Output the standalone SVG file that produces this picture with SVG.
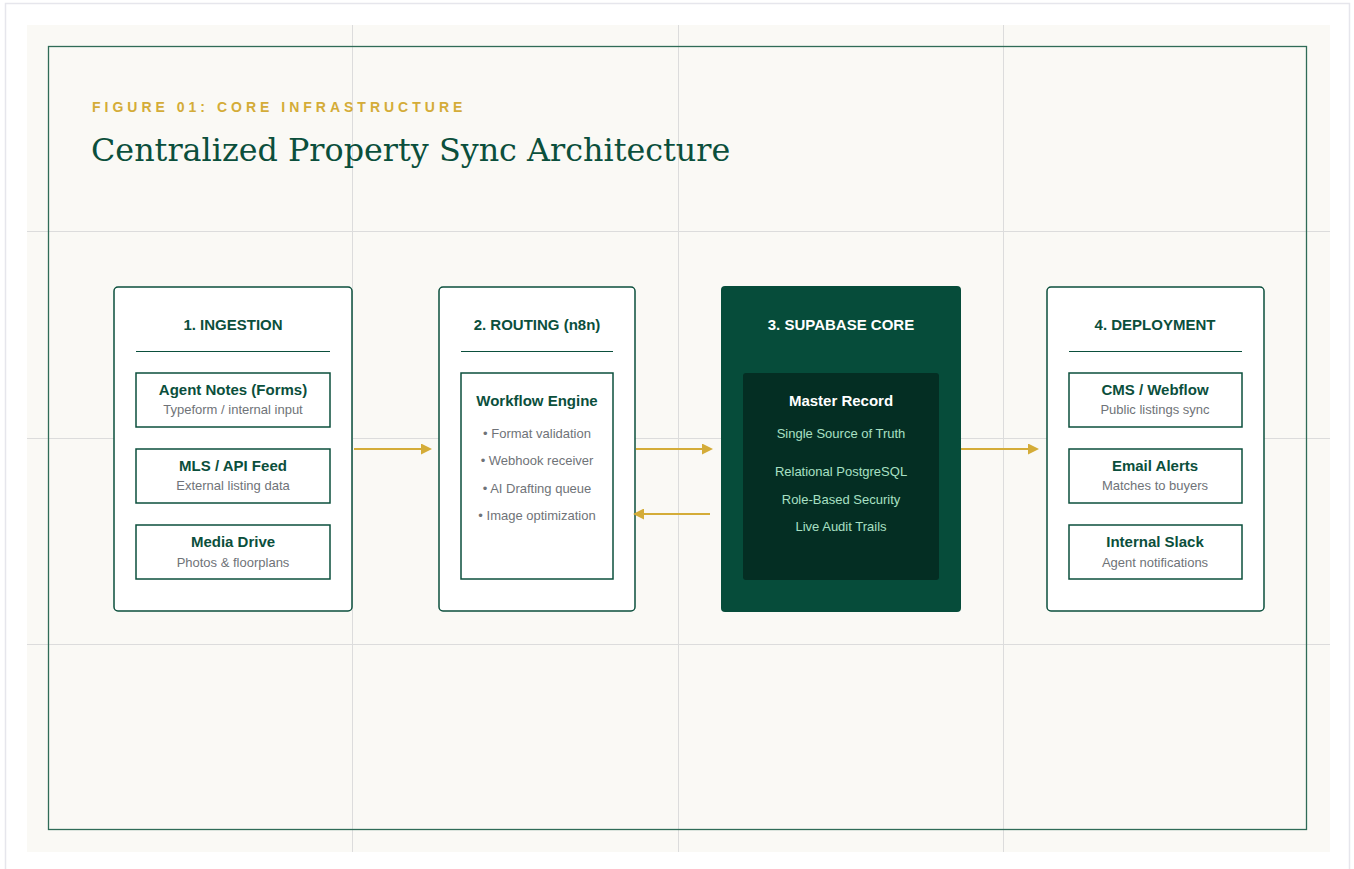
<svg xmlns="http://www.w3.org/2000/svg" width="1354" height="869" viewBox="0 0 1354 869">
  <defs>
    <style>
      .grid { stroke: #dcdcdc; stroke-width: 1; }
      .card { fill: #ffffff; stroke: #0b4f3c; stroke-width: 1.5; }
      .sub { fill: #ffffff; stroke: #0b4f3c; stroke-width: 1.5; }
      .rule { stroke: #0b4f3c; stroke-width: 1; }
      .head { font-family: "Liberation Sans", Arial, sans-serif; font-weight: bold; font-size: 15px; fill: #0b4f3c; text-anchor: middle; }
      .name { font-family: "Liberation Sans", Arial, sans-serif; font-weight: bold; font-size: 15px; fill: #0b4f3c; text-anchor: middle; }
      .desc { font-family: "Liberation Sans", Arial, sans-serif; font-size: 13px; fill: #6f7378; text-anchor: middle; }
      .light { font-family: "Liberation Sans", Arial, sans-serif; font-size: 13px; fill: #a8e0c4; text-anchor: middle; }
      .flow { stroke: #d4ac38; stroke-width: 2; fill: none; marker-end: url(#arrow); }
    </style>
    <marker id="arrow" markerWidth="11" markerHeight="11" refX="9" refY="5.5" orient="auto" markerUnits="userSpaceOnUse">
      <path d="M0,0 L11,5.5 L0,11 Z" fill="#d4ac38"/>
    </marker>
  </defs>

  <!-- page -->
  <rect x="0" y="0" width="1354" height="869" fill="#ffffff"/>
  <rect x="5.5" y="3.5" width="1344" height="870" fill="none" stroke="#e6e6ec" stroke-width="1.5"/>
  <rect x="27" y="25" width="1303" height="827" fill="#faf9f5"/>

  <!-- background grid -->
  <g id="grid">
    <line class="grid" x1="352.5" y1="25" x2="352.5" y2="852"/>
    <line class="grid" x1="678.5" y1="25" x2="678.5" y2="852"/>
    <line class="grid" x1="1003.5" y1="25" x2="1003.5" y2="852"/>
    <line class="grid" x1="27" y1="231.5" x2="1330" y2="231.5"/>
    <line class="grid" x1="27" y1="438.5" x2="1330" y2="438.5"/>
    <line class="grid" x1="27" y1="644.5" x2="1330" y2="644.5"/>
  </g>

  <!-- frame -->
  <rect x="48.5" y="46.5" width="1258" height="783" fill="none" stroke="#2f6b57" stroke-width="1.3"/>

  <!-- heading -->
  <text x="92" y="112" font-family="Liberation Sans, Arial, sans-serif" font-weight="bold" font-size="14" letter-spacing="4" fill="#d4ac38">FIGURE 01: CORE INFRASTRUCTURE</text>
  <text x="91" y="161" font-family="DejaVu Serif, Liberation Serif, Georgia, serif" font-size="31.8" fill="#0b4f3c">Centralized Property Sync Architecture</text>

  <!-- 1. ingestion -->
  <g id="ingestion">
    <rect class="card" x="114" y="287" width="238" height="324" rx="4"/>
    <text class="head" x="233" y="330">1. INGESTION</text>
    <line class="rule" x1="136" y1="351.5" x2="330" y2="351.5"/>
    <rect class="sub" x="136" y="373" width="194" height="54"/>
    <text class="name" x="233" y="395">Agent Notes (Forms)</text>
    <text class="desc" x="233" y="414">Typeform / internal input</text>
    <rect class="sub" x="136" y="449" width="194" height="54"/>
    <text class="name" x="233" y="471">MLS / API Feed</text>
    <text class="desc" x="233" y="490">External listing data</text>
    <rect class="sub" x="136" y="525" width="194" height="54"/>
    <text class="name" x="233" y="547">Media Drive</text>
    <text class="desc" x="233" y="567">Photos &amp; floorplans</text>
  </g>

  <!-- 2. routing -->
  <g id="routing">
    <rect class="card" x="439" y="287" width="196" height="324" rx="4"/>
    <text class="head" x="537" y="330">2. ROUTING (n8n)</text>
    <line class="rule" x1="461" y1="351.5" x2="613" y2="351.5"/>
    <rect class="sub" x="461" y="373" width="152" height="206"/>
    <text class="name" x="537" y="406">Workflow Engine</text>
    <text class="desc" x="537" y="438">• Format validation</text>
    <text class="desc" x="537" y="465">• Webhook receiver</text>
    <text class="desc" x="537" y="493">• AI Drafting queue</text>
    <text class="desc" x="537" y="520">• Image optimization</text>
  </g>

  <!-- 3. supabase core -->
  <g id="supabase">
    <rect x="721" y="286" width="240" height="326" rx="4" fill="#064c3a"/>
    <text class="head" x="841" y="330" style="fill:#ffffff">3. SUPABASE CORE</text>
    <rect x="743" y="373" width="196" height="207" rx="3" fill="#042e23"/>
    <text class="name" x="841" y="406" style="fill:#ffffff">Master Record</text>
    <text class="light" x="841" y="438">Single Source of Truth</text>
    <text class="light" x="841" y="476">Relational PostgreSQL</text>
    <text class="light" x="841" y="504">Role-Based Security</text>
    <text class="light" x="841" y="531">Live Audit Trails</text>
  </g>

  <!-- 4. deployment -->
  <g id="deployment">
    <rect class="card" x="1047" y="287" width="217" height="324" rx="4"/>
    <text class="head" x="1155" y="330">4. DEPLOYMENT</text>
    <line class="rule" x1="1069" y1="351.5" x2="1242" y2="351.5"/>
    <rect class="sub" x="1069" y="373" width="173" height="54"/>
    <text class="name" x="1155" y="395">CMS / Webflow</text>
    <text class="desc" x="1155" y="414">Public listings sync</text>
    <rect class="sub" x="1069" y="449" width="173" height="54"/>
    <text class="name" x="1155" y="471">Email Alerts</text>
    <text class="desc" x="1155" y="490">Matches to buyers</text>
    <rect class="sub" x="1069" y="525" width="173" height="54"/>
    <text class="name" x="1155" y="547">Internal Slack</text>
    <text class="desc" x="1155" y="567">Agent notifications</text>
  </g>

  <!-- connectors -->
  <g id="connectors">
    <line class="flow" x1="354" y1="449" x2="430" y2="449"/>
    <line class="flow" x1="636" y1="449" x2="711" y2="449"/>
    <line class="flow" x1="710" y1="514" x2="635" y2="514"/>
    <line class="flow" x1="961" y1="449" x2="1037" y2="449"/>
  </g>
</svg>
